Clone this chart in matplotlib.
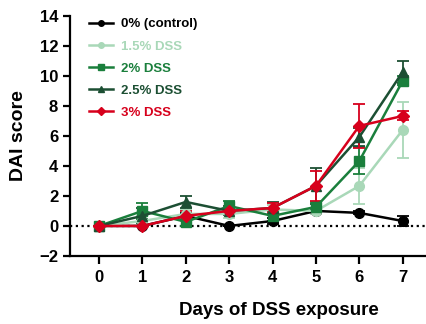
import numpy as np
import matplotlib
matplotlib.use("Agg")
import matplotlib.pyplot as plt
from matplotlib.lines import Line2D

plt.rcParams['font.family'] = ['Liberation Sans', 'DejaVu Sans']
plt.rcParams['font.weight'] = 'bold'

# Daten
days = [0, 1, 2, 3, 4, 5, 6, 7]
labels = ['0% (control)', '1.5% DSS', '2% DSS', '2.5% DSS', '3% DSS']
colors = ['#000000', '#a9d8b8', '#1a7f3c', '#1c4f33', '#d7001c']
markers = ['o', 'o', 's', '^', 'D']

dai_0 = [0, 0, 0.67, 0, 0.33, 1.0, 0.87, 0.33]
dai_15 = [0, 0.33, 0.8, 0.8, 1.1, 1.0, 2.67, 6.4]
dai_2 = [0, 1.0, 0.27, 1.33, 0.67, 1.27, 4.33, 9.67]
dai_25 = [0, 0.67, 1.6, 1.0, 1.2, 2.67, 5.93, 10.27]
dai_3 = [0, 0, 0.67, 1.0, 1.2, 2.67, 6.67, 7.33]

err_0 = [0, 0, 0.2, 0, 0.2, 0.1, 0.1, 0.33]
err_15 = [0, 0.3, 0.3, 0.3, 0.3, 0.2, 1.2, 1.85]
err_2 = [0, 0.55, 0.3, 0.3, 0.35, 0.35, 0.9, 0.3]
err_25 = [0, 0.5, 0.4, 0.3, 0.4, 1.2, 0.6, 0.73]
err_3 = [0, 0, 0.3, 0.2, 0.3, 1.0, 1.45, 0.3]

means = [dai_0, dai_15, dai_2, dai_25, dai_3]
errs = [err_0, err_15, err_2, err_25, err_3]
msizes = [7, 7, 7, 7, 6]

fig = plt.figure(figsize=(4.27, 3.24), dpi=100)
ax = fig.add_axes([0.164, 0.21, 0.836, 0.741])

ax.axhline(0, color='black', linestyle=(0, (1, 1.6)), linewidth=1.6, zorder=1)

for m, e, c, mk, ms in zip(means, errs, colors, markers, msizes):
    ax.errorbar(days, m, yerr=e, color=c, marker=mk, markersize=ms, linewidth=1.8,
                elinewidth=1.3, capsize=4, capthick=1.3, zorder=3)

ax.set_xlim(-0.67, 7.56)
ax.set_ylim(-2, 14)
ax.set_xticks(days)
ax.set_yticks(np.arange(-2, 15, 2))

for s in ['top', 'right']:
    ax.spines[s].set_visible(False)
for s in ['left', 'bottom']:
    ax.spines[s].set_linewidth(1.6)
ax.tick_params(axis='both', width=1.6, length=5, labelsize=12)
ax.tick_params(axis='x', length=6, pad=4)
for t in ax.get_xticklabels() + ax.get_yticklabels():
    t.set_fontweight('bold')

ax.set_xlabel('Days of DSS exposure', fontsize=13.5, fontweight='bold', labelpad=5)
ax.xaxis.set_label_coords(0.585, -0.19)
ax.set_ylabel('DAI score', fontsize=14, fontweight='bold', labelpad=9)

# Legende nur mit Linie + Marker (ohne Fehlerbalken)
handles = [Line2D([], [], color=c, marker=mk, markersize=4, linewidth=1.8)
           for c, mk in zip(colors, markers)]
leg = ax.legend(handles, labels, loc='upper left', bbox_to_anchor=(0.02, 1.04), frameon=False,
                fontsize=9.5, handlelength=1.8, labelspacing=0.75, handletextpad=0.6)
for txt, c in zip(leg.get_texts(), colors):
    txt.set_color(c)
    txt.set_fontweight('bold')

fig.savefig('out.png', dpi=100)
